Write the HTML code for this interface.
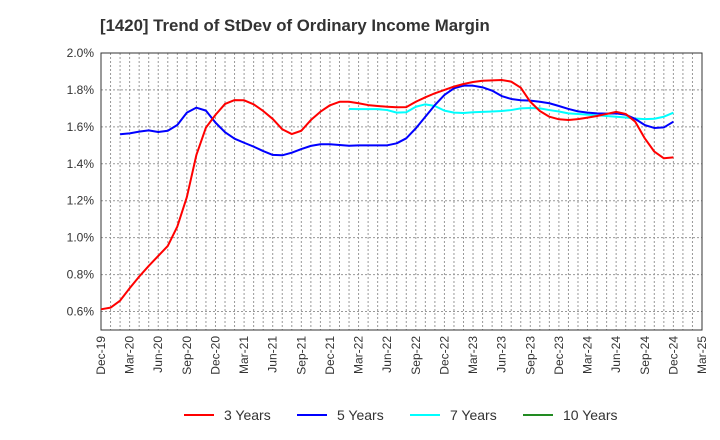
<!DOCTYPE html>
<html><head><meta charset="utf-8"><style>
body{margin:0;background:#fff;}
svg{display:block;font-family:"Liberation Sans",sans-serif;}
</style></head><body>
<svg id="chart" width="720" height="440">
<text x="100" y="31" font-size="16.8" font-weight="bold" fill="#333">[1420]  Trend of StDev of Ordinary Income Margin</text>
<g id="grid"></g>
<g id="axes"></g>
<g id="series"></g>
<g id="legend">
<line x1="184" y1="415" x2="214" y2="415" stroke="#f00" stroke-width="2"/>
<text x="224" y="420" font-size="14" fill="#333">3 Years</text>
<line x1="297" y1="415" x2="327" y2="415" stroke="#00f" stroke-width="2"/>
<text x="337" y="420" font-size="14" fill="#333">5 Years</text>
<line x1="410" y1="415" x2="440" y2="415" stroke="#0ff" stroke-width="2"/>
<text x="450" y="420" font-size="14" fill="#333">7 Years</text>
<line x1="523" y1="415" x2="553" y2="415" stroke="#228b22" stroke-width="2"/>
<text x="563" y="420" font-size="14" fill="#333">10 Years</text>
</g>
</svg>
<script>
const xTickLabels=["Dec-19","Mar-20","Jun-20","Sep-20","Dec-20","Mar-21","Jun-21","Sep-21","Dec-21","Mar-22","Jun-22","Sep-22","Dec-22","Mar-23","Jun-23","Sep-23","Dec-23","Mar-24","Jun-24","Sep-24","Dec-24","Mar-25"];
const yTicks=[0.6,0.8,1.0,1.2,1.4,1.6,1.8,2.0];
const s3Start=0;
const s3=[0.612,0.621,0.659,0.726,0.789,0.847,0.901,0.955,1.06,1.22,1.448,1.596,1.665,1.724,1.745,1.744,1.722,1.686,1.643,1.587,1.561,1.579,1.637,1.682,1.717,1.736,1.736,1.728,1.718,1.713,1.709,1.706,1.707,1.736,1.76,1.782,1.80,1.818,1.832,1.843,1.85,1.852,1.854,1.845,1.812,1.736,1.686,1.655,1.641,1.637,1.642,1.65,1.659,1.67,1.681,1.67,1.628,1.538,1.466,1.43,1.435];
const s5Start=2;
const s5=[1.56,1.565,1.574,1.581,1.572,1.579,1.61,1.677,1.704,1.688,1.623,1.571,1.536,1.514,1.493,1.469,1.448,1.446,1.46,1.48,1.497,1.506,1.506,1.502,1.498,1.50,1.50,1.50,1.50,1.511,1.538,1.592,1.655,1.718,1.773,1.809,1.823,1.823,1.814,1.796,1.767,1.751,1.744,1.742,1.736,1.728,1.713,1.697,1.684,1.677,1.673,1.672,1.673,1.666,1.643,1.61,1.594,1.597,1.628];
const s7Start=26;
const s7=[1.697,1.696,1.696,1.696,1.691,1.677,1.679,1.709,1.722,1.713,1.688,1.677,1.675,1.679,1.681,1.683,1.686,1.691,1.70,1.702,1.70,1.691,1.683,1.673,1.670,1.666,1.662,1.659,1.655,1.651,1.645,1.642,1.644,1.655,1.677];
const s10Start=0;
const s10=[];

const L=101,R=702,T=53,B=330,YMIN=0.5,YMAX=2.0,MONTHS=63;
const ns="http://www.w3.org/2000/svg";
function X(i){return L+(R-L)*i/MONTHS;}
function Y(v){return B-(B-T)*(v-YMIN)/(YMAX-YMIN);}
function mk(tag,attrs,parent){const e=document.createElementNS(ns,tag);for(const k in attrs)e.setAttribute(k,attrs[k]);parent.appendChild(e);return e;}
const grid=document.getElementById('grid'),axes=document.getElementById('axes'),ser=document.getElementById('series');
for(let m=1;m<MONTHS;m++){
  const l=mk('line',{x1:X(m),x2:X(m),y1:T,y2:B,stroke:'#999','stroke-dasharray':'2,2','stroke-width':1},grid);
  
  
}
yTicks.forEach(v=>{
  const l=mk('line',{x1:L,x2:R,y1:Y(v),y2:Y(v),stroke:'#999','stroke-dasharray':'2,2','stroke-width':1},grid);
  
  
  const t=mk('text',{x:L-7,y:Y(v)+4,'text-anchor':'end','font-size':12,fill:'#333'},axes);
  t.textContent=v.toFixed(1)+'%';
  
  
});
const fr=mk('rect',{x:L,y:T,width:R-L,height:B-T,fill:'none',stroke:'#333','stroke-width':1},axes);


xTickLabels.forEach((s,k)=>{
  const x=X(k*3);
  const t=mk('text',{x:0,y:0,'text-anchor':'end','font-size':12,fill:'#333',transform:`translate(${x+4},${B+6}) rotate(-90)`},axes);
  t.textContent=s;
  
  
});
function draw(arr,start,color,name){
  if(!arr.length)return;
  const p=mk('polyline',{points:arr.map((v,i)=>X(start+i)+','+Y(v)).join(' '),fill:'none',stroke:color,'stroke-width':2,'stroke-linejoin':'round'},ser);
  
  
}
draw(s7,s7Start,'#0ff','line-7-years');
draw(s5,s5Start,'#00f','line-5-years');
draw(s3,s3Start,'#f00','line-3-years');
draw(s10,s10Start,'#228b22','line-10-years');
</script>
</body></html>
